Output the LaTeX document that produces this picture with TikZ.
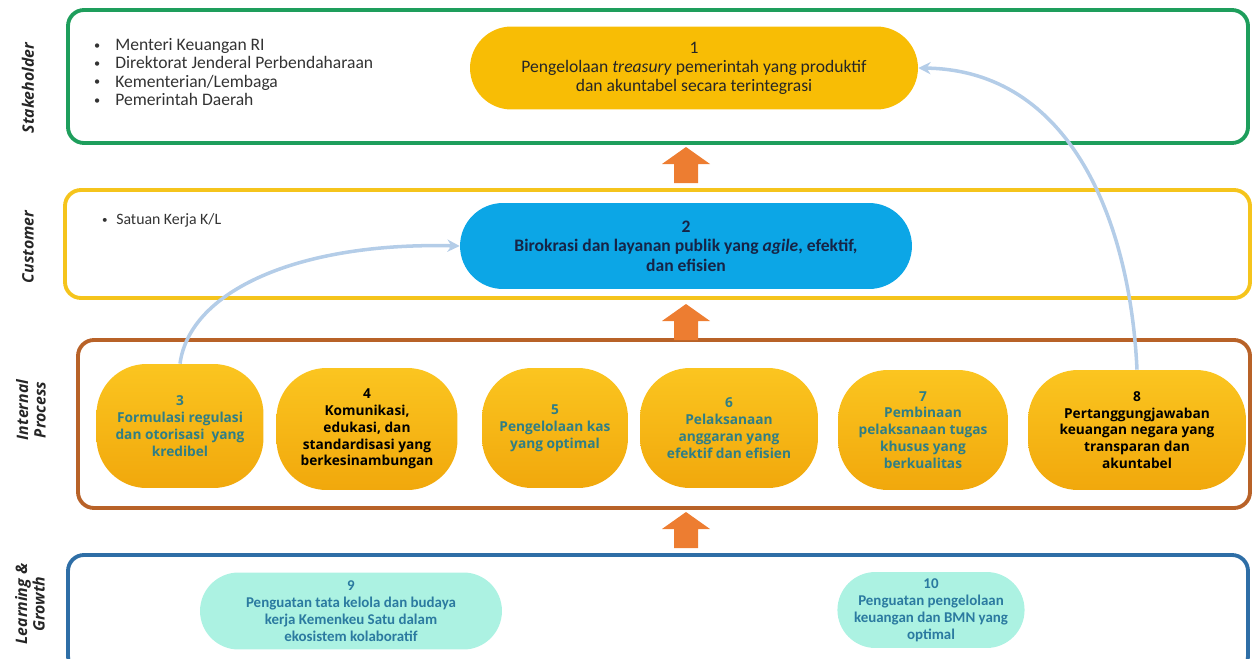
\documentclass[tikz,border=0pt]{standalone}
\usepackage{fontspec}
\setmainfont{Carlito}
\newfontfamily\procfont{Open Sans}
\usetikzlibrary{shapes.misc, arrows.meta}

\definecolor{stakeGreen}{RGB}{30,158,92}
\definecolor{custYellow}{RGB}{245,196,28}
\definecolor{procBrown}{RGB}{184,98,40}
\definecolor{learnBlue}{RGB}{46,110,166}
\definecolor{goalGold}{RGB}{248,189,5}
\definecolor{goalBlue}{RGB}{12,166,230}
\definecolor{goalNavy}{RGB}{22,36,70}
\definecolor{procTop}{RGB}{251,197,32}
\definecolor{procBot}{RGB}{241,168,12}
\definecolor{procTeal}{RGB}{47,126,134}
\definecolor{learnMint}{RGB}{172,242,226}
\definecolor{learnText}{RGB}{43,122,160}
\definecolor{linkBlue}{RGB}{180,205,232}
\definecolor{pushOrange}{RGB}{237,125,49}

\newcommand{\blt}[1]{\makebox[#1][l]{\raisebox{0.15ex}{\scalebox{0.7}{\textbullet}}}}

\tikzset{
  panel/.style={line width=2.2pt, rounded corners=0.32cm},
  side/.style={rotate=90, font=\procfont\bfseries\itshape\fontsize{9}{10}\selectfont, align=center, text=black!85},
  goal/.style={shape=rounded rectangle, inner sep=0pt, align=center},
  proc/.style={rounded corners=1.0cm, top color=procTop, bottom color=procBot, inner sep=0pt, align=center,
    font=\procfont\bfseries\fontsize{7.8}{9.6}\selectfont},
  growth/.style={shape=rounded rectangle, fill=learnMint, text=learnText, inner sep=0pt, align=center,
    font=\bfseries\fontsize{8.5}{9.6}\selectfont},
  link/.style={linkBlue, line width=2pt, -{Stealth[length=7pt,width=7pt]}},
  push/.style={fill=pushOrange},
}

\begin{document}
\begin{tikzpicture}[x=0.02cm, y=-0.02cm]
\useasboundingbox (0,0) rectangle (1252,659);

\draw[panel, stakeGreen] (68,10) rectangle (1248,143);
\draw[panel, custYellow] (65,190) rectangle (1250,298);
\draw[panel, procBrown] (78,340) rectangle (1250,508);
\draw[panel, learnBlue] (68,555) rectangle (1248,672);

\node[side] (lstake) at (28,88) {Stakeholder};
\node[side] (lcust) at (28,247) {Customer};
\node[side] (lproc) at (31,410) {Internal\\Process};
\node[side] (lgrow) at (30,604) {Learning \&\\Growth};

\begin{scope}[font=\fontsize{10}{10.4}\selectfont, text=black!80]
\node[anchor=west, align=left] (who) at (88,72) {%
  \blt{12pt}Menteri Keuangan RI\\
  \blt{12pt}Direktorat Jenderal Perbendaharaan\\
  \blt{12pt}Kementerian/Lembaga\\
  \blt{12pt}Pemerintah Daerah};
\node[anchor=west, font=\fontsize{9}{10}\selectfont] (satker) at (96,220) {%
  \blt{8pt}Satuan Kerja K/L};
\end{scope}

\node[goal, fill=goalGold, text=black!85, minimum width=8.96cm, minimum height=1.66cm,
  font=\fontsize{10}{10.8}\selectfont] (n1) at (694,68)
  {1\\Pengelolaan \textit{treasury} pemerintah yang produktif\\dan akuntabel secara terintegrasi};
\node[goal, fill=goalBlue, text=goalNavy, minimum width=9.04cm, minimum height=1.72cm,
  font=\bfseries\fontsize{10}{11}\selectfont] (n2) at (686,246)
  {2\\Birokrasi dan layanan publik yang \textit{agile}, efektif,\\dan efisien};

\begin{scope}[minimum height=2.44cm]
\node[proc, text=procTeal, minimum width=3.34cm, minimum height=2.48cm] (p3) at (180,426)
  {3\\Formulasi regulasi\\dan otorisasi\ \ yang\\kredibel};
\node[proc, text=black, minimum width=3.62cm] (p4) at (367,429)
  {4\\Komunikasi,\\edukasi, dan\\standardisasi yang\\berkesinambungan};
\node[proc, text=procTeal, minimum width=2.92cm, minimum height=2.4cm] (p5) at (555,428)
  {5\\Pengelolaan kas\\yang optimal};
\node[proc, text=procTeal, minimum width=3.56cm, minimum height=2.4cm] (p6) at (729,428)
  {6\\Pelaksanaan\\anggaran yang\\efektif dan efisien};
\node[proc, text=procTeal, minimum width=3.4cm, minimum height=2.4cm] (p7) at (923,430)
  {7\\Pembinaan\\pelaksanaan tugas\\khusus yang\\berkualitas};
\node[proc, text=black, minimum width=4.36cm, minimum height=2.4cm] (p8) at (1137,430)
  {8\\Pertanggungjawaban\\keuangan negara yang\\transparan dan\\akuntabel};
\end{scope}

\node[growth, minimum width=6.04cm, minimum height=1.54cm] (g9) at (351,611)
  {9\\Penguatan tata kelola dan budaya\\kerja Kemenkeu Satu dalam\\ekosistem kolaboratif};
\node[growth, minimum width=3.54cm, minimum height=1.52cm] (g10) at (931,610)
  {10\\Penguatan pengelolaan\\keuangan dan BMN yang\\optimal};

\foreach \ty in {147,304,512}
  \fill[push] (686,\ty) -- ++(24,17) -- ++(-12,0) -- ++(0,19) -- ++(-24,0) -- ++(0,-19) -- ++(-12,0) -- cycle;

\draw[link] (p3.north) .. controls (190,290) and (300,242) .. (n2.west);
\draw[link] (p8.north) .. controls (1130,220) and (1070,70) .. (n1.east);
\end{tikzpicture}
\end{document}
